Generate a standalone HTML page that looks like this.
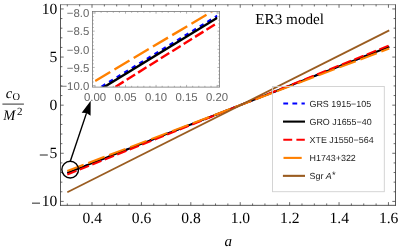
<!DOCTYPE html>
<html><head><meta charset="utf-8"><title>ER3 model</title>
<style>
html,body{margin:0;padding:0;background:#fff;}
body{width:399px;height:251px;overflow:hidden;}
svg{display:block;text-rendering:geometricPrecision;will-change:transform;}
.ser{font-family:"Liberation Serif",serif;fill:#000;}
.san{font-family:"Liberation Sans",sans-serif;}
</style></head><body>
<svg width="399" height="251" viewBox="0 0 399 251">
<rect width="399" height="251" fill="#fff"/>
<g fill="none" stroke-linecap="butt">
<path d="M67.30,172.92L389.25,46.73" stroke="#0000ff" stroke-width="2.0" stroke-dasharray="4.43 4.43"/>
<path d="M67.30,172.92L389.25,46.73" stroke="#000" stroke-width="2.0"/>
<path d="M67.30,174.55L389.25,45.38" stroke="#ff0000" stroke-width="2.0" stroke-dasharray="9.9 3.55"/>
<path d="M67.30,170.99L389.25,48.47" stroke="#ff8000" stroke-width="2.0" stroke-dasharray="17.5 4.9"/>
<path d="M67.30,192.35L389.25,30.38" stroke="#9a5c20" stroke-width="1.7"/>
</g>
<g stroke="#3a3a3a" fill="none" stroke-width="0.9">
<path d="M60.1,4.6499999999999995H395.9" stroke-width="0.55"/>
<path d="M60.5,4.55V205.75M395.5,4.55V205.75M60.1,205.35H395.9" stroke-width="0.85"/>
<path d="M67.30,205.35v-1.9M67.30,4.55v1.9M79.65,205.35v-1.9M79.65,4.55v1.9M92.00,205.35v-3.2M92.00,4.55v3.2M104.35,205.35v-1.9M104.35,4.55v1.9M116.70,205.35v-1.9M116.70,4.55v1.9M129.06,205.35v-1.9M129.06,4.55v1.9M141.41,205.35v-3.2M141.41,4.55v3.2M153.76,205.35v-1.9M153.76,4.55v1.9M166.11,205.35v-1.9M166.11,4.55v1.9M178.46,205.35v-1.9M178.46,4.55v1.9M190.82,205.35v-3.2M190.82,4.55v3.2M203.17,205.35v-1.9M203.17,4.55v1.9M215.52,205.35v-1.9M215.52,4.55v1.9M227.87,205.35v-1.9M227.87,4.55v1.9M240.22,205.35v-3.2M240.22,4.55v3.2M252.58,205.35v-1.9M252.58,4.55v1.9M264.93,205.35v-1.9M264.93,4.55v1.9M277.28,205.35v-1.9M277.28,4.55v1.9M289.63,205.35v-3.2M289.63,4.55v3.2M301.98,205.35v-1.9M301.98,4.55v1.9M314.34,205.35v-1.9M314.34,4.55v1.9M326.69,205.35v-1.9M326.69,4.55v1.9M339.04,205.35v-3.2M339.04,4.55v3.2M351.39,205.35v-1.9M351.39,4.55v1.9M363.74,205.35v-1.9M363.74,4.55v1.9M376.10,205.35v-1.9M376.10,4.55v1.9M388.45,205.35v-3.2M388.45,4.55v3.2M60.5,201.40h3.2M395.5,201.40h-3.2M60.5,191.78h1.9M395.5,191.78h-1.9M60.5,182.15h1.9M395.5,182.15h-1.9M60.5,172.53h1.9M395.5,172.53h-1.9M60.5,162.91h1.9M395.5,162.91h-1.9M60.5,153.28h3.2M395.5,153.28h-3.2M60.5,143.66h1.9M395.5,143.66h-1.9M60.5,134.04h1.9M395.5,134.04h-1.9M60.5,124.42h1.9M395.5,124.42h-1.9M60.5,114.79h1.9M395.5,114.79h-1.9M60.5,105.17h3.2M395.5,105.17h-3.2M60.5,95.55h1.9M395.5,95.55h-1.9M60.5,85.92h1.9M395.5,85.92h-1.9M60.5,76.30h1.9M395.5,76.30h-1.9M60.5,66.68h1.9M395.5,66.68h-1.9M60.5,57.06h3.2M395.5,57.06h-3.2M60.5,47.43h1.9M395.5,47.43h-1.9M60.5,37.81h1.9M395.5,37.81h-1.9M60.5,28.19h1.9M395.5,28.19h-1.9M60.5,18.56h1.9M395.5,18.56h-1.9M60.5,8.94h3.2M395.5,8.94h-3.2" stroke-width="0.75"/>
</g>
<g class="ser" font-size="15.6px">
<text x="92.20" y="222.7" text-anchor="middle">0.4</text>
<text x="141.61" y="222.7" text-anchor="middle">0.6</text>
<text x="191.02" y="222.7" text-anchor="middle">0.8</text>
<text x="240.42" y="222.7" text-anchor="middle">1.0</text>
<text x="289.83" y="222.7" text-anchor="middle">1.2</text>
<text x="339.24" y="222.7" text-anchor="middle">1.4</text>
<text x="388.65" y="222.7" text-anchor="middle">1.6</text>
<text x="57.3" y="13.94" text-anchor="end">10</text>
<text x="57.3" y="62.06" text-anchor="end">5</text>
<text x="57.3" y="110.17" text-anchor="end">0</text>
<text x="57.3" y="158.28" text-anchor="end">5</text>
<rect x="39.80" y="154.58" width="8.0" height="0.85"/>
<text x="57.3" y="206.40" text-anchor="end">10</text>
<rect x="32.00" y="202.70" width="8.0" height="0.85"/>
<text x="228.3" y="245.7" text-anchor="middle" font-style="italic" font-size="15px">a</text>
<text x="5.8" y="97.7" font-style="italic" font-size="14.5px">c</text>
<text x="12.6" y="99.7" font-size="10.4px">O</text>
<rect x="2.4" y="103.55" width="21.5" height="1.1" fill="#444"/>
<text x="3.2" y="119.5" font-style="italic" font-size="14.5px">M</text>
<text x="17.1" y="114.7" font-size="11px">2</text>
<text x="255.3" y="24.0" font-size="15.2px">ER3 model</text>
</g>
<rect x="92.5" y="11.5" width="127.10" height="75.60" fill="#fff" stroke="none"/>
<clipPath id="ic"><rect x="94.70" y="12.40" width="122.70" height="74.40"/></clipPath>
<g clip-path="url(#ic)" fill="none">
<path d="M101.60,86.68L217.40,15.84" stroke="#0000ff" stroke-width="2.4" stroke-dasharray="4.43 4.43"/>
<path d="M95.00,92.62L217.40,17.74" stroke="#000" stroke-width="2.4"/>
<path d="M115.30,86.90L217.40,22.88" stroke="#ff0000" stroke-width="2.4" stroke-dasharray="9.9 3.55"/>
<path d="M95.20,80.95L217.40,8.24" stroke="#ff8000" stroke-width="2.4" stroke-dasharray="17.5 4.9"/>
</g>
<g stroke="#777" fill="none" stroke-width="0.8">
<rect x="92.5" y="11.5" width="127.10" height="75.60"/>
<path d="M95.00,87.1v-2.2M95.00,11.5v2.2M101.11,87.1v-1.3M101.11,11.5v1.3M107.21,87.1v-1.3M107.21,11.5v1.3M113.31,87.1v-1.3M113.31,11.5v1.3M119.42,87.1v-1.3M119.42,11.5v1.3M125.53,87.1v-2.2M125.53,11.5v2.2M131.63,87.1v-1.3M131.63,11.5v1.3M137.74,87.1v-1.3M137.74,11.5v1.3M143.84,87.1v-1.3M143.84,11.5v1.3M149.94,87.1v-1.3M149.94,11.5v1.3M156.05,87.1v-2.2M156.05,11.5v2.2M162.16,87.1v-1.3M162.16,11.5v1.3M168.26,87.1v-1.3M168.26,11.5v1.3M174.37,87.1v-1.3M174.37,11.5v1.3M180.47,87.1v-1.3M180.47,11.5v1.3M186.57,87.1v-2.2M186.57,11.5v2.2M192.68,87.1v-1.3M192.68,11.5v1.3M198.79,87.1v-1.3M198.79,11.5v1.3M204.89,87.1v-1.3M204.89,11.5v1.3M211.00,87.1v-1.3M211.00,11.5v1.3M217.10,87.1v-2.2M217.10,11.5v2.2M92.5,13.00h2.2M219.6,13.00h-2.2M92.5,16.63h1.3M219.6,16.63h-1.3M92.5,20.26h1.3M219.6,20.26h-1.3M92.5,23.89h1.3M219.6,23.89h-1.3M92.5,27.52h1.3M219.6,27.52h-1.3M92.5,31.15h2.2M219.6,31.15h-2.2M92.5,34.78h1.3M219.6,34.78h-1.3M92.5,38.41h1.3M219.6,38.41h-1.3M92.5,42.04h1.3M219.6,42.04h-1.3M92.5,45.67h1.3M219.6,45.67h-1.3M92.5,49.30h2.2M219.6,49.30h-2.2M92.5,52.93h1.3M219.6,52.93h-1.3M92.5,56.56h1.3M219.6,56.56h-1.3M92.5,60.19h1.3M219.6,60.19h-1.3M92.5,63.82h1.3M219.6,63.82h-1.3M92.5,67.45h2.2M219.6,67.45h-2.2M92.5,71.08h1.3M219.6,71.08h-1.3M92.5,74.71h1.3M219.6,74.71h-1.3M92.5,78.34h1.3M219.6,78.34h-1.3M92.5,81.97h1.3M219.6,81.97h-1.3M92.5,85.60h2.2M219.6,85.60h-2.2" stroke-width="0.55"/>
</g>
<g class="san" font-size="11.4px" fill="#666">
<text x="95.00" y="100.8" text-anchor="middle">0.00</text>
<text x="125.53" y="100.8" text-anchor="middle">0.05</text>
<text x="156.05" y="100.8" text-anchor="middle">0.10</text>
<text x="186.57" y="100.8" text-anchor="middle">0.15</text>
<text x="217.10" y="100.8" text-anchor="middle">0.20</text>
<text x="89.3" y="17.30" text-anchor="end">−8.0</text>
<text x="89.3" y="35.45" text-anchor="end">−8.5</text>
<text x="89.3" y="53.60" text-anchor="end">−9.0</text>
<text x="89.3" y="71.75" text-anchor="end">−9.5</text>
<text x="89.3" y="89.90" text-anchor="end">−10.0</text>
</g>
<circle cx="70.2" cy="169.6" r="8.35" fill="none" stroke="#000" stroke-width="1.4"/>
<path d="M70.3,161.3L86.48,113.10" stroke="#000" stroke-width="1.4" fill="none"/>
<path d="M90.7,100.7L90.57,115.66L86.48,113.10L81.67,112.63Z" fill="#000"/>
<rect x="272.5" y="86.5" width="111.80" height="105.20" fill="none" stroke="#d0d0d0" stroke-width="0.9"/>
<g fill="none" stroke-width="2.1">
<path d="M283.3,103.5H304.8" stroke="#0000ff" stroke-dasharray="4.8 4.3"/>
<path d="M283.0,121.6H305" stroke="#000"/>
<path d="M283.3,139.8H304.8" stroke="#ff0000" stroke-dasharray="8.9 4.2"/>
<path d="M283.5,157.9H301.7" stroke="#ff8000"/>
<path d="M282.9,175.85H305" stroke="#9a5c20"/>
</g>
<g class="san" font-size="8.92px" fill="#1a1a1a">
<text x="309.5" y="106.90">GRS 1915−105</text>
<text x="309.5" y="125.00">GRO J1655−40</text>
<text x="309.5" y="143.20">XTE J1550−564</text>
<text x="309.5" y="161.30">H1743+322</text>
<text x="309.5" y="179.25">Sgr <tspan font-style="italic">A</tspan><tspan dx="0.2" dy="-1.5" font-size="9.4px">*</tspan></text>
</g>
</svg>
</body></html>
